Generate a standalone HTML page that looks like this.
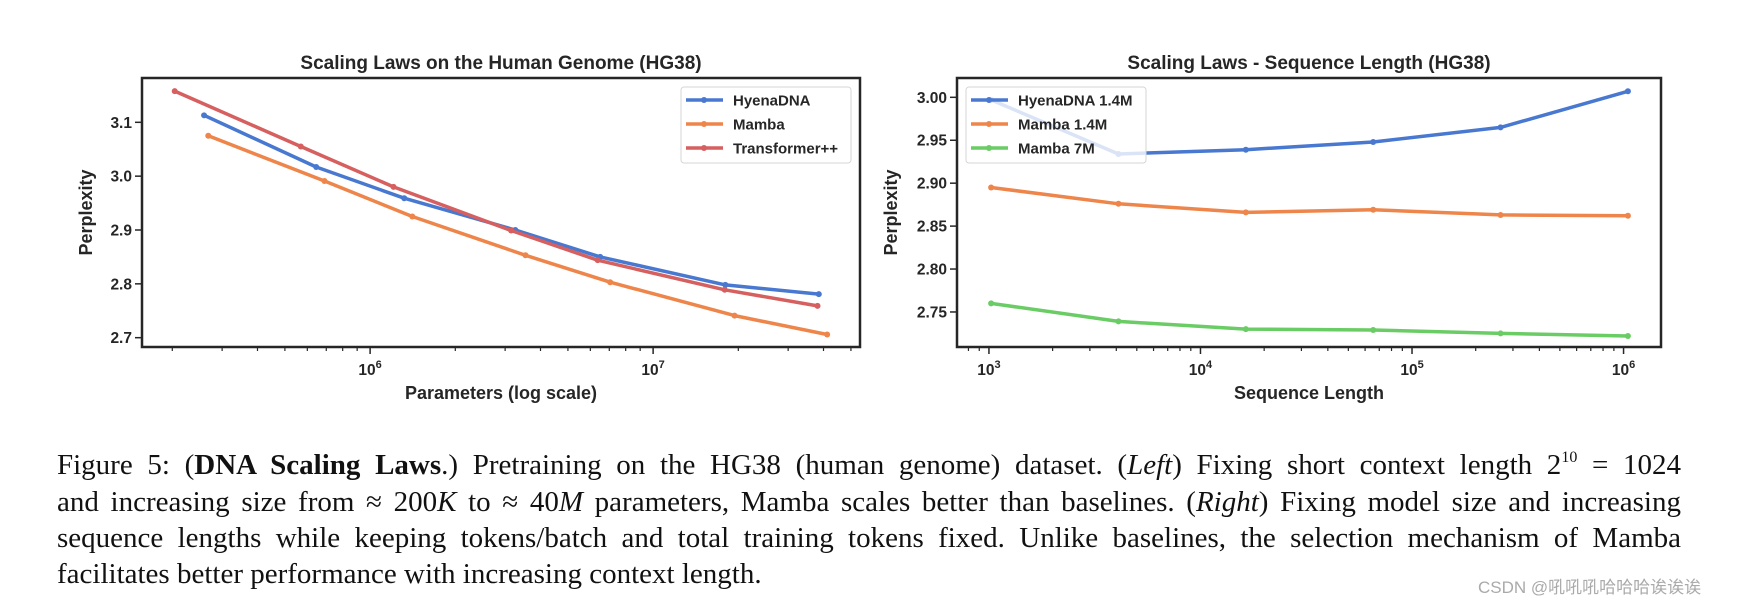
<!DOCTYPE html>
<html><head><meta charset="utf-8">
<style>
html,body{margin:0;padding:0;background:#fff;}
body{width:1744px;height:603px;position:relative;overflow:hidden;}
svg{position:absolute;left:0;top:0;}
.cap{position:absolute;left:57px;width:1624px;font-family:"Liberation Serif",serif;font-size:29px;color:#111;text-align:justify;text-align-last:justify;line-height:36px;height:36px;white-space:nowrap;}
.cap.last{text-align-last:left;}
.cap sup{font-size:16px;line-height:0;vertical-align:0;position:relative;top:-12px;}
.wm{position:absolute;left:1478px;top:573px;font-family:"Liberation Sans","Noto Sans CJK SC",sans-serif;font-size:17px;color:#aaa;}
</style></head><body>
<svg id="fig" width="1744" height="603"></svg>
<div class="cap" style="top:447px">Figure 5: (<b>DNA Scaling Laws</b>.) Pretraining on the HG38 (human genome) dataset. (<i>Left</i>) Fixing short context length 2<sup>10</sup> = 1024</div>
<div class="cap" style="top:484px">and increasing size from ≈ 200<i>K</i> to ≈ 40<i>M</i> parameters, Mamba scales better than baselines. (<i>Right</i>) Fixing model size and increasing</div>
<div class="cap" style="top:520px">sequence lengths while keeping tokens/batch and total training tokens fixed. Unlike baselines, the selection mechanism of Mamba</div>
<div class="cap last" style="top:556px">facilitates better performance with increasing context length.</div>
<div class="wm">CSDN @吼吼吼哈哈哈诶诶诶</div>
<script>
// Left chart data
const leftSeriesNames = ["HyenaDNA","Mamba","Transformer++"];
const hyenaParams = [2.59e5,6.45e5,1.32e6,3.26e6,6.5e6,1.8e7,3.85e7];
const hyenaPpl = [3.113,3.017,2.959,2.900,2.850,2.798,2.781];
const mambaParams = [2.68e5,6.9e5,1.41e6,3.54e6,7.05e6,1.94e7,4.12e7];
const mambaPpl = [3.075,2.991,2.925,2.853,2.803,2.741,2.706];
const transParams = [2.04e5,5.69e5,1.21e6,3.15e6,6.37e6,1.79e7,3.81e7];
const transPpl = [3.158,3.055,2.980,2.899,2.844,2.789,2.759];
const leftYTicks = [2.7,2.8,2.9,3.0,3.1];
const leftYTickLabels = ["2.7","2.8","2.9","3.0","3.1"];
// Right chart data
const rightSeriesNames = ["HyenaDNA 1.4M","Mamba 1.4M","Mamba 7M"];
const seqLens = [1024,4096,16384,65536,262144,1048576];
const hyena14Ppl = [2.997,2.934,2.939,2.948,2.965,3.007];
const mamba14Ppl = [2.895,2.876,2.866,2.869,2.863,2.862];
const mamba7Ppl = [2.760,2.739,2.730,2.729,2.725,2.722];
const rightYTicks = [2.75,2.80,2.85,2.90,2.95,3.00];
const rightYTickLabels = ["2.75","2.80","2.85","2.90","2.95","3.00"];

const NS="http://www.w3.org/2000/svg";
const svg=document.getElementById('fig');
const FONT='"Liberation Sans", sans-serif';
function mk(tag,attrs,parent){const e=document.createElementNS(NS,tag);for(const k in attrs)e.setAttribute(k,attrs[k]);(parent||svg).appendChild(e);return e;}

function chart(cfg){
  const g=mk('g',{});
  
  
  const {x0,x1,y0,y1,lx0,lx1,vy0,vy1}=cfg;
  const X=v=>x0+(Math.log10(v)-lx0)/(lx1-lx0)*(x1-x0);
  const Y=v=>y1-(v-vy0)/(vy1-vy0)*(y1-y0);
  const t=mk('text',{x:(x0+x1)/2,y:y0-9,'text-anchor':'middle','font-family':FONT,'font-weight':'bold','font-size':19,fill:'#262626'},g);
  t.textContent=cfg.title;
  
  
  cfg.yTicks.forEach((v,i)=>{
    const yy=Y(v);
    mk('line',{x1:x0-7,x2:x0,y1:yy,y2:yy,stroke:'#262626','stroke-width':1.5},g);
    const tl=mk('text',{x:x0-10,y:yy+5.5,'text-anchor':'end','font-family':FONT,'font-weight':'bold','font-size':15.5,fill:'#262626'},g);
    tl.textContent=cfg.yLabels[i];
    
    
  });
  for(let d=Math.floor(cfg.lx0);d<=Math.ceil(cfg.lx1);d++){
    for(let m=1;m<10;m++){
      const lv=d+Math.log10(m);
      if(lv<lx0||lv>lx1) continue;
      const xx=x0+(lv-lx0)/(lx1-lx0)*(x1-x0);
      const major=(m===1);
      mk('line',{x1:xx,x2:xx,y1:y1,y2:y1+(major?7:4),stroke:'#262626','stroke-width':major?1.5:1.2},g);
      if(major){
        const tl=mk('text',{x:xx,y:y1+28,'text-anchor':'middle','font-family':FONT,'font-weight':'bold','font-size':15.5,fill:'#262626'},g);
        
        
        const a=mk('tspan',{},tl);a.textContent='10';
        const b=mk('tspan',{'font-size':11,dy:-7},tl);b.textContent=String(d);
      }
    }
  }
  const xl=mk('text',{x:(x0+x1)/2,y:y1+52,'text-anchor':'middle','font-family':FONT,'font-weight':'bold','font-size':18,fill:'#262626'},g);
  xl.textContent=cfg.xLabel;
  
  
  const yl=mk('text',{x:0,y:0,transform:`translate(${cfg.ylx},${(y0+y1)/2}) rotate(-90)`,'text-anchor':'middle','font-family':FONT,'font-weight':'bold','font-size':18,fill:'#262626'},g);
  yl.textContent='Perplexity';
  
  
  cfg.series.forEach((s,i)=>{
    const pts=s.xs.map((xv,j)=>X(xv).toFixed(1)+','+Y(s.ys[j]).toFixed(1)).join(' ');
    const pl=mk('polyline',{points:pts,fill:'none',stroke:s.color,'stroke-width':3.5,'stroke-linejoin':'round','stroke-linecap':'round'},g);
    
    
    s.xs.forEach((xv,j)=>{
      const c=mk('circle',{cx:X(xv),cy:Y(s.ys[j]),r:3,fill:s.color},g);
      
      
    });
  });
  mk('rect',{x:x0,y:y0,width:x1-x0,height:y1-y0,fill:'none',stroke:'#262626','stroke-width':2.5},g);
  const L=cfg.legend;
  const lg=mk('g',{},g);
  
  
  mk('rect',{x:L.x,y:L.y,width:L.w,height:L.h,rx:3,fill:'#fff','fill-opacity':0.8,stroke:'#d6d6d6','stroke-width':1},lg);
  cfg.series.forEach((s,i)=>{
    const yy=L.y+13+i*24;
    mk('line',{x1:L.x+5,x2:L.x+42,y1:yy,y2:yy,stroke:s.color,'stroke-width':3.5},lg);
    mk('circle',{cx:L.x+23,cy:yy,r:3,fill:s.color},lg);
    const tx=mk('text',{x:L.x+52,y:yy+5.5,'font-family':FONT,'font-weight':'bold','font-size':15,fill:'#262626'},lg);
    tx.textContent=s.name;
    
    
  });
}

chart({name:'left-chart',title:'Scaling Laws on the Human Genome (HG38)',xLabel:'Parameters (log scale)',
  x0:142,x1:860,y0:78,y1:347,lx0:5.194,lx1:7.731,vy0:2.6827,vy1:3.1823,ylx:92,
  yTicks:leftYTicks,yLabels:leftYTickLabels,
  legend:{x:681,y:87,w:170,h:76},
  series:[
    {name:leftSeriesNames[0],xs:hyenaParams,ys:hyenaPpl,color:'#4878d0'},
    {name:leftSeriesNames[1],xs:mambaParams,ys:mambaPpl,color:'#ee854a'},
    {name:leftSeriesNames[2],xs:transParams,ys:transPpl,color:'#d65f5f'}]});

chart({name:'right-chart',title:'Scaling Laws - Sequence Length (HG38)',xLabel:'Sequence Length',
  x0:957,x1:1661,y0:78,y1:347,lx0:2.849,lx1:6.177,vy0:2.7092,vy1:3.0225,ylx:897,
  yTicks:rightYTicks,yLabels:rightYTickLabels,
  legend:{x:966,y:87,w:180,h:76},
  series:[
    {name:rightSeriesNames[0],xs:seqLens,ys:hyena14Ppl,color:'#4878d0'},
    {name:rightSeriesNames[1],xs:seqLens,ys:mamba14Ppl,color:'#ee854a'},
    {name:rightSeriesNames[2],xs:seqLens,ys:mamba7Ppl,color:'#6acc64'}]});
</script>
</body></html>
